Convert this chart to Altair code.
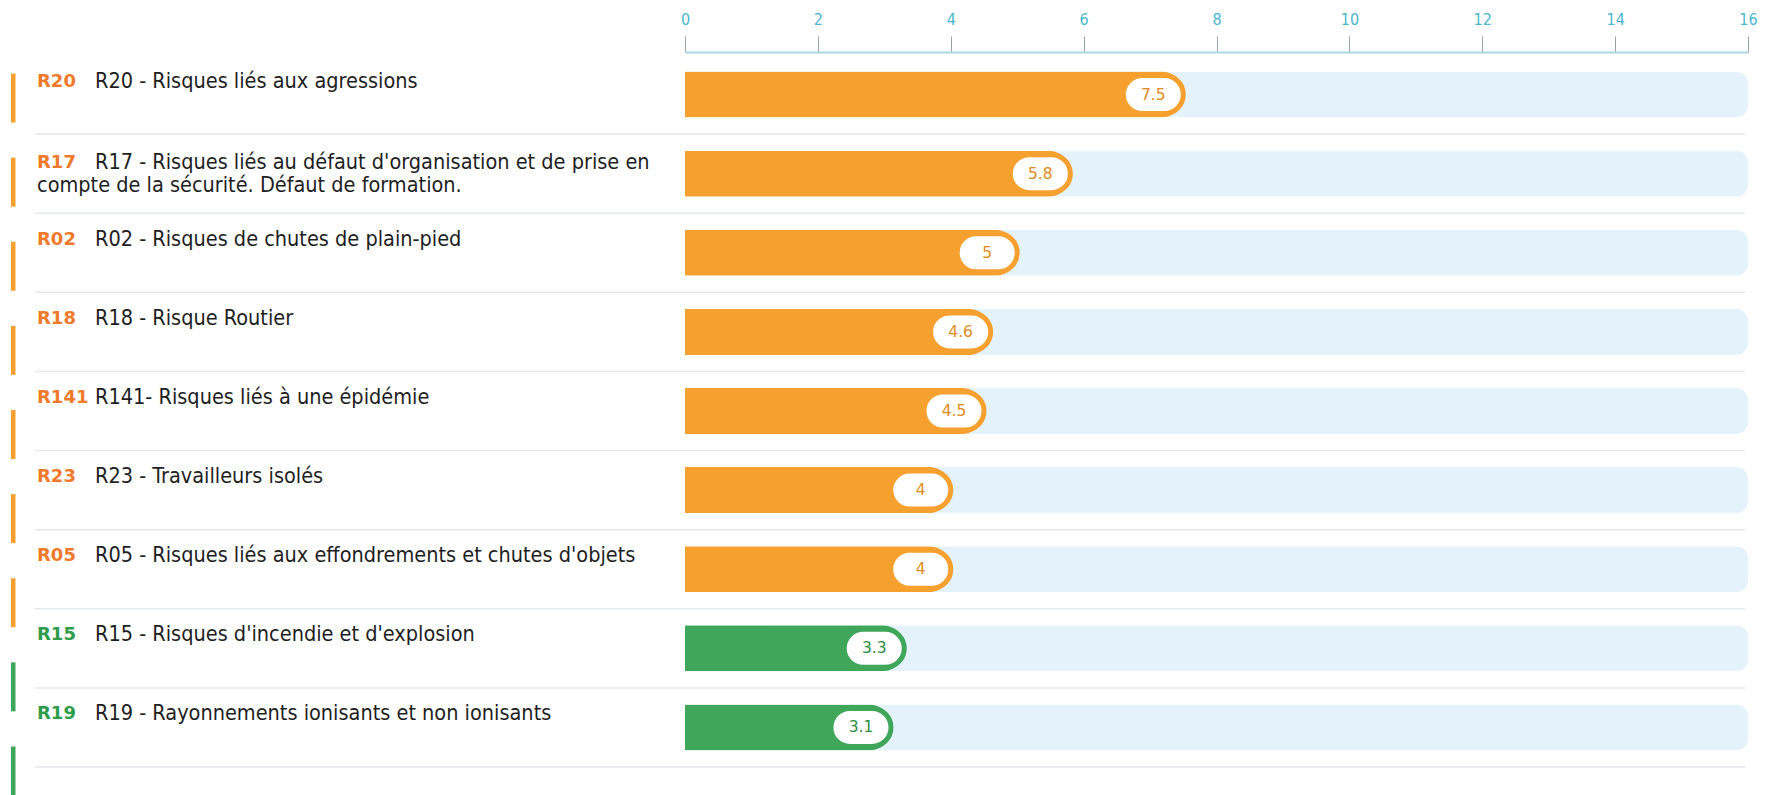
import altair as alt
import pandas as pd

codes = ["R20", "R17", "R02", "R18", "R141", "R23", "R05", "R15", "R19"]
line1 = [
    "R20 - Risques liés aux agressions",
    "R17 - Risques liés au défaut d'organisation et de prise en",
    "R02 - Risques de chutes de plain-pied",
    "R18 - Risque Routier",
    "R141- Risques liés à une épidémie",
    "R23 - Travailleurs isolés",
    "R05 - Risques liés aux effondrements et chutes d'objets",
    "R15 - Risques d'incendie et d'explosion",
    "R19 - Rayonnements ionisants et non ionisants",
]
line2 = ["", "compte de la sécurité. Défaut de formation.", "", "", "", "", "", "", ""]
values = [7.5, 5.8, 5, 4.6, 4.5, 4, 4, 3.3, 3.1]
value_labels = ["7.5", "5.8", "5", "4.6", "4.5", "4", "4", "3.3", "3.1"]
levels = ["orange"] * 7 + ["vert"] * 2
scale_max = 16
tick_values = [0, 2, 4, 6, 8, 10, 12, 14, 16]

df = pd.DataFrame({
    "code": codes, "line1": line1, "line2": line2, "value": values,
    "label": value_labels, "level": levels, "max": [scale_max] * len(codes),
})
df["multi"] = df["line2"] != ""

LEVELS = ["orange", "vert"]
BAR_COL = ["#F6A12F", "#3FA65A"]
CODE_COL = ["#EF7A2C", "#2E9C4A"]
VAL_COL = ["#E08C22", "#2C8E42"]

y_scale = alt.Scale(domain=codes, range=[3, 715], paddingInner=0, paddingOuter=0)
stripe_scale = alt.Scale(domain=codes, range=[4, 761], paddingInner=0, paddingOuter=0)
x_scale = alt.Scale(domain=[0, scale_max], range=[677, 1740], nice=False, zero=True)

def Y(**kw):
    return alt.Y("code:N", sort=codes, scale=y_scale, axis=None, **kw)

base = alt.Chart(df)

sep = base.mark_rule(strokeWidth=1.5, color="#E3E9EF").encode(
    y=Y(bandPosition=1), x=alt.value(27), x2=alt.value(1737)
)

bg = base.mark_bar(size=46, cornerRadiusEnd=12, color="#E4F2FC").encode(
    y=Y(),
    x=alt.X("max:Q", scale=x_scale, axis=alt.Axis(
        orient="top", values=tick_values, title=None, grid=False, format="d",
        labelColor="#4BB6CE", labelFont="DejaVu Sans Condensed, sans-serif",
        labelFontSize=16, labelPadding=9, tickSize=16, tickColor="#9AA2A6",
        tickWidth=1, domainColor="#A9D9E3", domainWidth=2, labelFlush=False,
    )),
)

bars = base.mark_bar(size=46, cornerRadiusEnd=22).encode(
    y=Y(),
    x=alt.X("value:Q", scale=x_scale),
    color=alt.Color("level:N", scale=alt.Scale(domain=LEVELS, range=BAR_COL), legend=None),
)

PILL = "M -0.58 -1 L 0.58 -1 A 1 1 0 0 1 0.58 1 L -0.58 1 A 1 1 0 0 1 -0.58 -1 Z"
pill = base.mark_point(shape=PILL, size=1444, filled=True, fill="white", strokeWidth=5,
                       opacity=1, xOffset=-30).encode(
    y=Y(),
    x=alt.X("value:Q", scale=x_scale),
    stroke=alt.Stroke("level:N", scale=alt.Scale(domain=LEVELS, range=BAR_COL), legend=None),
)

val_text = base.mark_text(xOffset=-30, font="DejaVu Sans", fontSize=15.5, align="center",
                          baseline="middle").encode(
    y=Y(),
    x=alt.X("value:Q", scale=x_scale),
    text="label:N",
    color=alt.Color("level:N", scale=alt.Scale(domain=LEVELS, range=VAL_COL), legend=None),
)

stripes = base.mark_bar(size=49).encode(
    y=alt.Y("code:N", sort=codes, scale=stripe_scale, axis=None),
    x=alt.value(3), x2=alt.value(7.5),
    color=alt.Color("level:N", scale=alt.Scale(domain=LEVELS, range=BAR_COL), legend=None),
)

DESC_FONT = "Liberation Sans Narrow, DejaVu Sans Condensed, sans-serif"

single = base.transform_filter("!datum.multi")
multi = base.transform_filter("datum.multi")

def code_layer(src, dy):
    return src.mark_text(font="DejaVu Sans", fontWeight="bold", fontSize=18, align="left",
                         baseline="middle", yOffset=dy).encode(
        y=Y(), x=alt.value(29), text="code:N",
        color=alt.Color("level:N", scale=alt.Scale(domain=LEVELS, range=CODE_COL), legend=None),
    )

def desc_layer(src, field, x, dy):
    return src.mark_text(font=DESC_FONT, fontSize=21.5, align="left", baseline="middle",
                         yOffset=dy, color="#1E1E1E").encode(
        y=Y(), x=alt.value(x), text=f"{field}:N")

rows = alt.layer(
    sep, bg, bars, pill, val_text,
    code_layer(single, -13), code_layer(multi, -11),
    desc_layer(single, "line1", 87, -13), desc_layer(multi, "line1", 87, -11),
    desc_layer(multi, "line2", 29, 12),
).resolve_scale(color="independent")

chart = alt.layer(rows, stripes).resolve_scale(
    y="independent", color="independent"
).properties(
    width=1742, height=715, padding={"left": 0, "top": 3, "right": 0, "bottom": 0},
    background="white",
).configure_view(strokeWidth=0)

chart.save("out.html", embed_options={"renderer": "svg", "actions": False})
